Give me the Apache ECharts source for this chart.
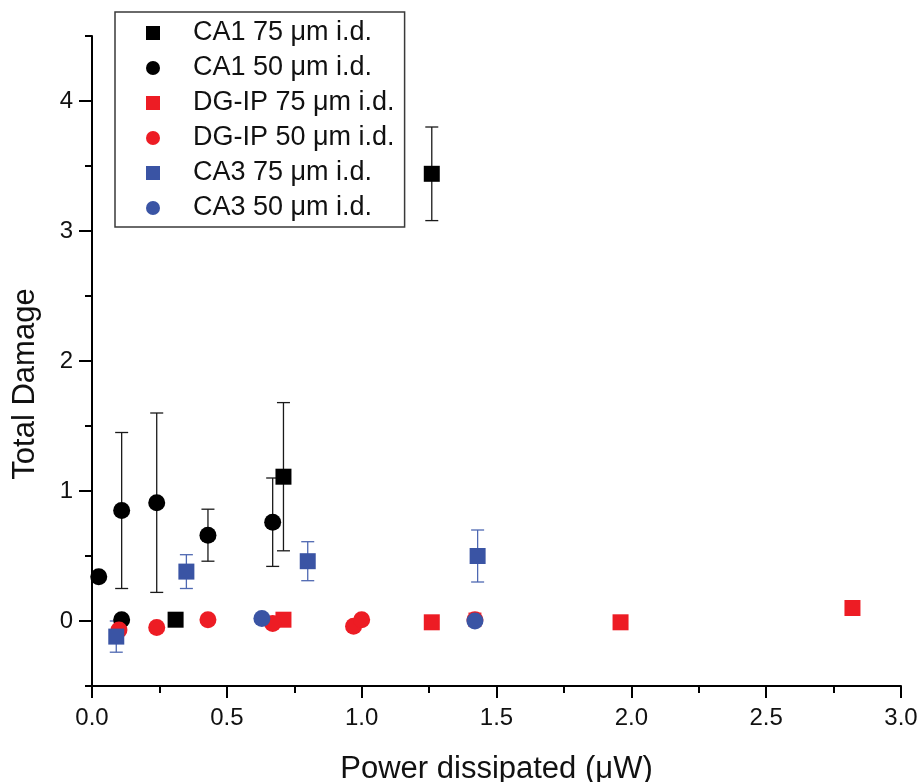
<!DOCTYPE html>
<html>
<head>
<meta charset="utf-8">
<title>Total Damage vs Power dissipated</title>
<script src="https://cdn.jsdelivr.net/npm/echarts@6/dist/echarts.min.js"></script>
<style>
  html, body { margin: 0; padding: 0; background: #fff; }
  #chart { width: 922px; height: 782px; }
</style>
</head>
<body>
<div id="chart"></div>
<script>
// Power dissipated (µW), Total Damage and its ± error for each group
const ca1_75_x   = [0.31, 0.71, 1.26];
const ca1_75_y   = [0.01, 1.11, 3.44];
const ca1_75_err = [0, 0.57, 0.36];

const ca1_50_x   = [0.025, 0.11, 0.11, 0.24, 0.43, 0.67];
const ca1_50_y   = [0.34, 0.85, 0.01, 0.91, 0.66, 0.76];
const ca1_50_err = [0, 0.60, 0, 0.69, 0.20, 0.34];

const dg_75_x   = [0.71, 1.26, 1.96, 2.82];
const dg_75_y   = [0.01, -0.01, -0.01, 0.10];
const dg_75_err = [0, 0, 0, 0];

const dg_50_x   = [0.10, 0.24, 0.43, 0.67, 0.97, 1.00, 1.42];
const dg_50_y   = [-0.07, -0.05, 0.01, -0.02, -0.04, 0.01, 0.01];
const dg_50_err = [0, 0, 0, 0, 0, 0, 0.05];

const ca3_75_x   = [0.09, 0.35, 0.80, 1.43];
const ca3_75_y   = [-0.12, 0.38, 0.46, 0.50];
const ca3_75_err = [0.12, 0.13, 0.15, 0.20];

const ca3_50_x   = [0.63, 1.42];
const ca3_50_y   = [0.02, 0.00];
const ca3_50_err = [0, 0];

const xTicks = [0, 0.5, 1.0, 1.5, 2.0, 2.5, 3.0];
const yTicks = [0, 1, 2, 3, 4];

const BLACK = '#000000';
const RED = '#ED1C24';
const BLUE = '#3A54A4';
const FONT = '"Liberation Sans", Arial, sans-serif';

const groups = [
  { name: 'CA1 75 \u03bcm i.d.',   x: ca1_75_x, y: ca1_75_y, err: ca1_75_err, color: BLACK, bar: '#1a1a1a', symbol: 'rect' },
  { name: 'CA1 50 \u03bcm i.d.',   x: ca1_50_x, y: ca1_50_y, err: ca1_50_err, color: BLACK, bar: '#1a1a1a', symbol: 'circle' },
  { name: 'DG-IP 75 \u03bcm i.d.', x: dg_75_x,  y: dg_75_y,  err: dg_75_err,  color: RED,   bar: RED,       symbol: 'rect' },
  { name: 'DG-IP 50 \u03bcm i.d.', x: dg_50_x,  y: dg_50_y,  err: dg_50_err,  color: RED,   bar: RED,       symbol: 'circle' },
  { name: 'CA3 75 \u03bcm i.d.',   x: ca3_75_x, y: ca3_75_y, err: ca3_75_err, color: BLUE,  bar: '#4e68b2', symbol: 'rect' },
  { name: 'CA3 50 \u03bcm i.d.',   x: ca3_50_x, y: ca3_50_y, err: ca3_50_err, color: BLUE,  bar: '#4e68b2', symbol: 'circle' }
];

function pointData(g) {
  return g.x.map((v, i) => [v, g.y[i]]);
}
function errorData(g) {
  return g.x.map((v, i) => [v, g.y[i], g.err[i]]).filter(d => d[2] > 0);
}

// vertical error bar with short caps, placed through the axis scales
function errorBarRenderer(stroke) {
  return function (params, api) {
    const x = api.value(0), y = api.value(1), e = api.value(2);
    const hi = api.coord([x, y + e]);
    const lo = api.coord([x, y - e]);
    const half = 6.5;
    const style = { stroke: stroke, lineWidth: 1.3, fill: null };
    return {
      type: 'group',
      children: [
        { type: 'line', shape: { x1: hi[0], y1: hi[1], x2: lo[0], y2: lo[1] }, style: style },
        { type: 'line', shape: { x1: hi[0] - half, y1: hi[1], x2: hi[0] + half, y2: hi[1] }, style: style },
        { type: 'line', shape: { x1: lo[0] - half, y1: lo[1], x2: lo[0] + half, y2: lo[1] }, style: style }
      ]
    };
  };
}

const scatterSeries = groups.map(g => ({
  name: g.name,
  type: 'scatter',
  symbol: g.symbol,
  symbolSize: g.symbol === 'rect' ? 16 : 17,
  itemStyle: { color: g.color, opacity: 1 },
  emphasis: { disabled: true },
  data: pointData(g)
}));

const errorSeries = groups.map(g => ({
  name: g.name + ' error',
  type: 'custom',
  renderItem: errorBarRenderer(g.bar),
  encode: { x: 0, y: 1 },
  clip: false,
  silent: true,
  data: errorData(g)
}));

const chart = echarts.init(document.getElementById('chart'), null, { renderer: 'canvas' });

chart.setOption({
  animation: false,
  backgroundColor: '#ffffff',
  textStyle: { fontFamily: FONT },
  grid: { left: 92, right: 21, top: 36, bottom: 96, containLabel: false, outerBoundsMode: 'none' },
  legend: {
    data: groups.map(g => ({ name: g.name, icon: g.symbol === 'rect' ? 'rect' : 'circle' })),
    orient: 'vertical',
    left: 115,
    top: 12,
    itemWidth: 14,
    itemHeight: 14,
    itemGap: 5,
    padding: [6, 10, 4, 31],
    borderColor: '#3a3a3a',
    borderWidth: 1.5,
    borderRadius: 0,
    backgroundColor: '#ffffff',
    selectedMode: false,
    textStyle: {
      fontFamily: FONT,
      fontSize: 27,
      color: '#111',
      lineHeight: 30,
      padding: [0, 0, 0, 28]
    }
  },
  xAxis: {
    type: 'value',
    min: 0,
    max: 3,
    interval: 0.5,
    name: 'Power dissipated (\u03bcW)',
    nameLocation: 'middle',
    nameGap: 68,
    nameTextStyle: { fontFamily: FONT, fontSize: 31, color: '#111' },
    axisLine: { show: true, onZero: false, lineStyle: { color: '#000', width: 2 } },
    axisTick: { show: true, inside: false, length: 12, lineStyle: { color: '#000', width: 2 } },
    minorTick: { show: true, splitNumber: 2, length: 7, lineStyle: { color: '#000', width: 2 } },
    axisLabel: {
      fontFamily: FONT, fontSize: 24, color: '#111', margin: 20,
      formatter: v => v.toFixed(1)
    },
    splitLine: { show: false },
    minorSplitLine: { show: false }
  },
  yAxis: [
    {
      type: 'value',
      min: -0.5,
      max: 4.5,
      interval: 0.5,
      axisLine: { show: true, onZero: false, lineStyle: { color: '#000', width: 2 } },
      axisTick: { show: true, inside: false, length: 7, lineStyle: { color: '#000', width: 2 } },
      axisLabel: {
        fontFamily: FONT, fontSize: 24, color: '#111', margin: 19,
        formatter: v => (Math.abs(v - Math.round(v)) < 1e-9 && yTicks.indexOf(Math.round(v)) >= 0) ? String(Math.round(v)) : ''
      },
      splitLine: { show: false }
    },
    {
      // long ticks at the whole-number labels
      type: 'value',
      position: 'left',
      min: -0.5,
      max: 4.5,
      axisLine: { show: false },
      axisTick: { show: true, inside: false, length: 13, customValues: yTicks, lineStyle: { color: '#000', width: 2 } },
      axisLabel: { show: false },
      splitLine: { show: false }
    }
  ],
  graphic: [
    {
      type: 'text',
      x: 25,
      y: 384,
      rotation: Math.PI / 2,
      style: {
        text: 'Total Damage',
        font: '31px ' + FONT,
        fill: '#111',
        align: 'center',
        verticalAlign: 'middle'
      }
    }
  ],
  series: scatterSeries.concat(errorSeries)
});
</script>
</body>
</html>
